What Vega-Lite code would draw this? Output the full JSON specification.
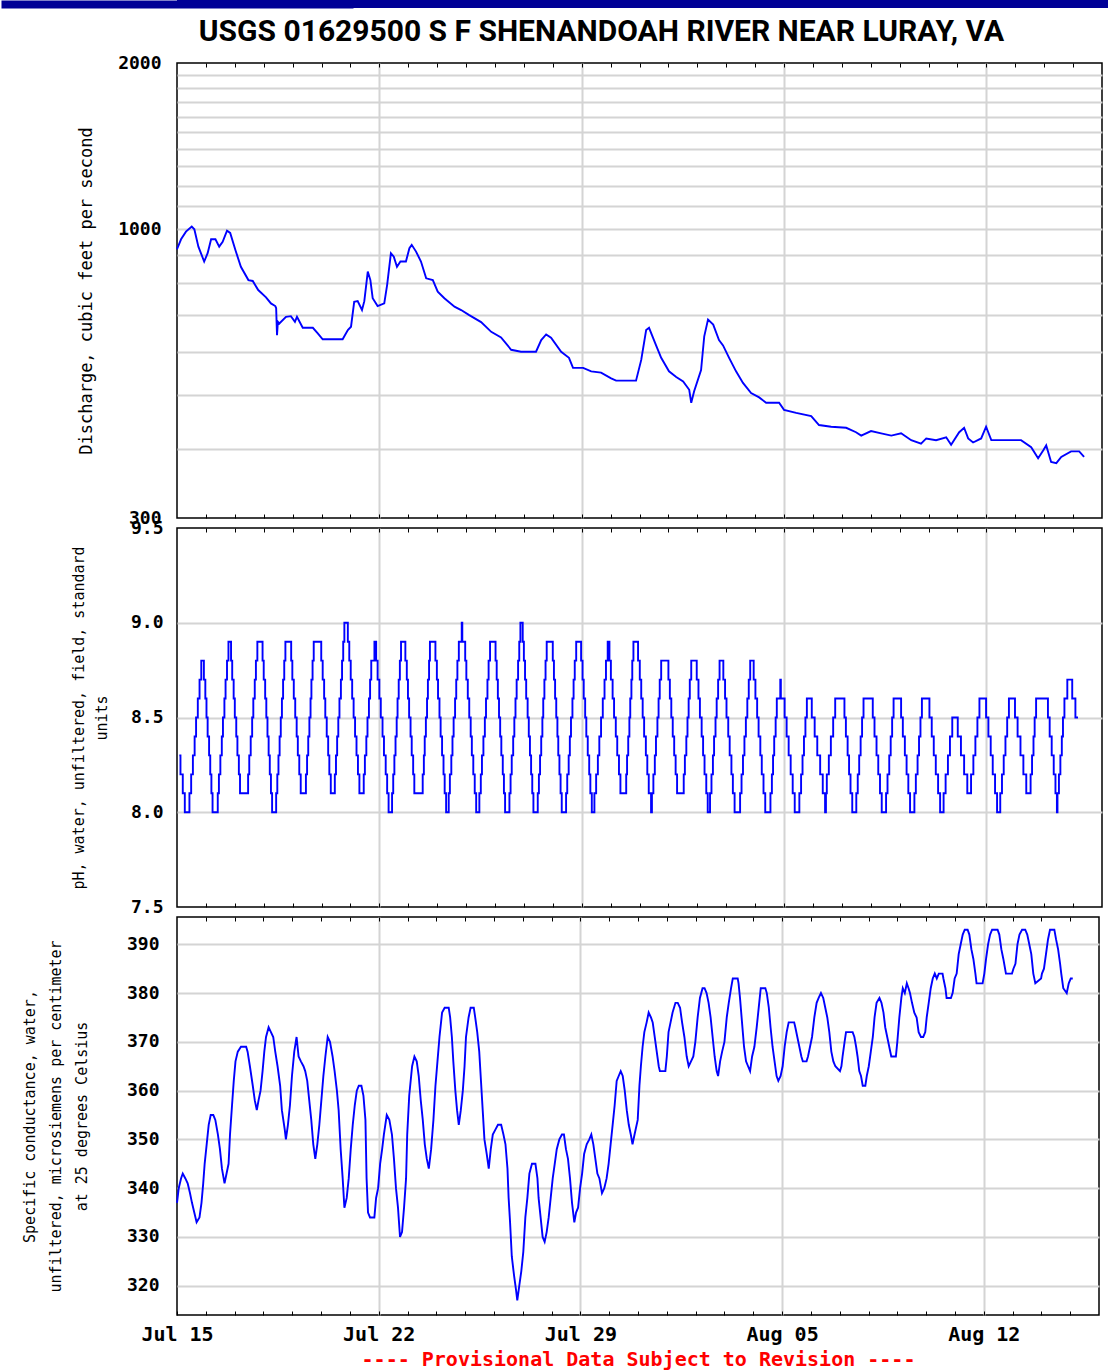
{
"$schema":"https://vega.github.io/schema/vega-lite/v6.json",
"background":"white",
"padding":{"left":21,"top":0,"right":0,"bottom":0},
"spacing":5,
"config":{
"view":{"stroke":"#000","strokeWidth":1.5},
"axis":{"labelFont":"DejaVu Sans Mono","labelFontWeight":"bold","labelFontSize":18,"labelColor":"#000","titleFont":"DejaVu Sans Mono","titleFontWeight":"normal","titleFontSize":15,"titleColor":"#000","gridColor":"#d4d4d4","gridWidth":2,"gridOpacity":1,"tickColor":"#000","tickWidth":1,"labelFlush":false,"labelOverlap":false},
"line":{"color":"#0000ff","strokeWidth":1.9}
},
"vconcat":[
{"width":932,"height":8,"view":{"fill":"#000096","stroke":null},"data":{"values":[{"k":0}]},"mark":{"type":"point","opacity":0},"encoding":{"y":{"field":"k","type":"quantitative","scale":{"domain":[0,1]},"axis":{"orient":"left","domain":true,"domainColor":"#000096","domainWidth":352,"domainCap":"butt","labels":false,"ticks":false,"grid":false,"title":null}}}},
{"spacing":10,"bounds":"flush","vconcat":[
{"width":925,"height":455,
"title":{"text":"USGS 01629500 S F SHENANDOAH RIVER NEAR LURAY, VA","font":"Roboto","fontSize":30,"fontWeight":"bold","color":"#000","anchor":"middle","frame":"group","dx":-38,"baseline":"alphabetic","offset":-17},
"data":{"values":[
{"d":0,"q":920},{"d":0.14,"q":959},{"d":0.31,"q":990},{"d":0.51,"q":1011},{"d":0.6,"q":1000},{"d":0.74,"q":930},{"d":0.94,"q":874},{"d":1.06,"q":905},{"d":1.18,"q":959},{"d":1.33,"q":959},{"d":1.46,"q":930},{"d":1.58,"q":949},{"d":1.73,"q":994},{"d":1.84,"q":985},{"d":2.02,"q":917},{"d":2.21,"q":855},{"d":2.47,"q":809},{"d":2.62,"q":806},{"d":2.81,"q":776},{"d":3.08,"q":753},{"d":3.25,"q":734},{"d":3.4,"q":726},{"d":3.43,"q":720},{"d":3.46,"q":643},{"d":3.49,"q":680},{"d":3.54,"q":675},{"d":3.77,"q":694},{"d":3.94,"q":696},{"d":4.08,"q":680},{"d":4.15,"q":694},{"d":4.35,"q":663},{"d":4.7,"q":663},{"d":4.87,"q":648},{"d":5.04,"q":632},{"d":5.73,"q":632},{"d":5.91,"q":657},{"d":6.02,"q":666},{"d":6.13,"q":739},{"d":6.25,"q":741},{"d":6.4,"q":714},{"d":6.48,"q":741},{"d":6.6,"q":838},{"d":6.69,"q":809},{"d":6.77,"q":750},{"d":6.94,"q":726},{"d":7.17,"q":734},{"d":7.27,"q":793},{"d":7.4,"q":905},{"d":7.5,"q":892},{"d":7.61,"q":855},{"d":7.73,"q":874},{"d":7.92,"q":874},{"d":8.04,"q":924},{"d":8.12,"q":937},{"d":8.27,"q":911},{"d":8.44,"q":874},{"d":8.62,"q":815},{"d":8.85,"q":809},{"d":9.02,"q":771},{"d":9.25,"q":750},{"d":9.6,"q":724},{"d":9.83,"q":714},{"d":10.11,"q":699},{"d":10.52,"q":679},{"d":10.87,"q":652},{"d":11.21,"q":637},{"d":11.56,"q":605},{"d":11.9,"q":600},{"d":12.42,"q":600},{"d":12.6,"q":630},{"d":12.77,"q":645},{"d":12.94,"q":636},{"d":13.29,"q":600},{"d":13.56,"q":585},{"d":13.7,"q":561},{"d":14.05,"q":561},{"d":14.33,"q":553},{"d":14.67,"q":550},{"d":15.02,"q":537},{"d":15.19,"q":532},{"d":15.88,"q":532},{"d":16.06,"q":580},{"d":16.23,"q":657},{"d":16.33,"q":663},{"d":16.57,"q":617},{"d":16.75,"q":585},{"d":17.02,"q":553},{"d":17.27,"q":540},{"d":17.51,"q":530},{"d":17.72,"q":512},{"d":17.79,"q":485},{"d":17.89,"q":509},{"d":18.13,"q":556},{"d":18.24,"q":640},{"d":18.37,"q":686},{"d":18.55,"q":672},{"d":18.75,"q":630},{"d":18.89,"q":616},{"d":19.1,"q":585},{"d":19.34,"q":553},{"d":19.58,"q":527},{"d":19.86,"q":505},{"d":20.14,"q":496},{"d":20.38,"q":485},{"d":20.83,"q":485},{"d":21,"q":471},{"d":21.42,"q":465},{"d":21.94,"q":459},{"d":22.21,"q":442},{"d":22.63,"q":439},{"d":23.15,"q":437},{"d":23.49,"q":429},{"d":23.67,"q":423},{"d":24.01,"q":431},{"d":24.36,"q":427},{"d":24.71,"q":423},{"d":25.05,"q":427},{"d":25.4,"q":415},{"d":25.74,"q":409},{"d":25.92,"q":418},{"d":26.26,"q":415},{"d":26.61,"q":420},{"d":26.78,"q":407},{"d":27.06,"q":429},{"d":27.23,"q":437},{"d":27.37,"q":418},{"d":27.54,"q":411},{"d":27.82,"q":418},{"d":27.99,"q":439},{"d":28.17,"q":415},{"d":28.51,"q":415},{"d":29.2,"q":415},{"d":29.55,"q":403},{"d":29.79,"q":385},{"d":29.97,"q":398},{"d":30.07,"q":406},{"d":30.24,"q":379},{"d":30.42,"q":377},{"d":30.59,"q":387},{"d":30.93,"q":396},{"d":31.21,"q":396},{"d":31.38,"q":387}
]},
"layer":[
{"mark":{"type":"line","strokeOpacity":0},"encoding":{
"x":{"field":"d","type":"quantitative","scale":{"domain":[0,32],"nice":false,"zero":false},"axis":{"orient":"bottom","values":[7,14,21,28],"grid":true,"labels":false,"ticks":false,"domain":false,"title":null}},
"y":{"field":"q","type":"quantitative","scale":{"type":"log","domain":[300,2000],"nice":false},"axis":{"orient":"left","values":[400,500,600,700,800,900,1000,1100,1200,1300,1400,1500,1600,1700,1800,1900],"grid":true,"labels":false,"ticks":false,"domain":false,"title":null}}}},
{"mark":{"type":"line","strokeOpacity":0},"encoding":{
"x":{"field":"d","type":"quantitative","scale":{"domain":[0,32],"nice":false,"zero":false},"axis":{"orient":"top","values":[1,2,3,4,5,6,7,8,9,10,11,12,13,14,15,16,17,18,19,20,21,22,23,24,25,26,27,28,29,30,31],"grid":false,"labels":false,"ticks":true,"tickSize":-4,"domain":false,"title":null,"minExtent":0,"maxExtent":0}},
"y":{"field":"q","type":"quantitative","scale":{"type":"log","domain":[300,2000],"nice":false},"axis":null}}},
{"mark":{"type":"line"},"encoding":{
"x":{"field":"d","type":"quantitative","scale":{"domain":[0,32],"nice":false,"zero":false},"axis":{"orient":"bottom","values":[1,2,3,4,5,6,7,8,9,10,11,12,13,14,15,16,17,18,19,20,21,22,23,24,25,26,27,28,29,30,31],"grid":false,"labels":false,"ticks":true,"tickSize":-4,"domain":false,"title":null}},
"y":{"field":"q","type":"quantitative","scale":{"type":"log","domain":[300,2000],"nice":false},"axis":{"orient":"left","values":[300,1000,2000],"format":"d","grid":false,"ticks":false,"domain":false,"labelPadding":16,"title":"Discharge, cubic feet per second","titleFontSize":17,"titlePadding":22}}}}
],
"resolve":{"axis":{"x":"independent","y":"independent"}}
},
{"width":925,"height":379,
"data":{"values":[
{"d":0.08,"p":8.3},{"d":0.12,"p":8.2},{"d":0.2,"p":8.1},{"d":0.27,"p":8.0},{"d":0.43,"p":8.1},{"d":0.49,"p":8.2},{"d":0.55,"p":8.3},{"d":0.61,"p":8.4},{"d":0.66,"p":8.5},{"d":0.72,"p":8.6},{"d":0.78,"p":8.7},{"d":0.84,"p":8.8},{"d":0.93,"p":8.7},{"d":0.98,"p":8.6},{"d":1.02,"p":8.5},{"d":1.06,"p":8.4},{"d":1.11,"p":8.3},{"d":1.15,"p":8.2},{"d":1.19,"p":8.1},{"d":1.23,"p":8.0},{"d":1.41,"p":8.1},{"d":1.45,"p":8.2},{"d":1.5,"p":8.3},{"d":1.55,"p":8.4},{"d":1.59,"p":8.5},{"d":1.64,"p":8.6},{"d":1.68,"p":8.7},{"d":1.73,"p":8.8},{"d":1.78,"p":8.9},{"d":1.87,"p":8.8},{"d":1.91,"p":8.7},{"d":1.96,"p":8.6},{"d":2.0,"p":8.5},{"d":2.05,"p":8.4},{"d":2.09,"p":8.3},{"d":2.14,"p":8.2},{"d":2.18,"p":8.1},{"d":2.46,"p":8.2},{"d":2.5,"p":8.3},{"d":2.55,"p":8.4},{"d":2.6,"p":8.5},{"d":2.64,"p":8.6},{"d":2.69,"p":8.7},{"d":2.73,"p":8.8},{"d":2.78,"p":8.9},{"d":2.96,"p":8.8},{"d":3.0,"p":8.7},{"d":3.05,"p":8.6},{"d":3.09,"p":8.5},{"d":3.13,"p":8.4},{"d":3.17,"p":8.3},{"d":3.21,"p":8.2},{"d":3.25,"p":8.1},{"d":3.29,"p":8.0},{"d":3.43,"p":8.1},{"d":3.47,"p":8.2},{"d":3.51,"p":8.3},{"d":3.55,"p":8.4},{"d":3.59,"p":8.5},{"d":3.63,"p":8.6},{"d":3.67,"p":8.7},{"d":3.71,"p":8.8},{"d":3.75,"p":8.9},{"d":3.95,"p":8.8},{"d":3.99,"p":8.7},{"d":4.04,"p":8.6},{"d":4.09,"p":8.5},{"d":4.14,"p":8.4},{"d":4.18,"p":8.3},{"d":4.23,"p":8.2},{"d":4.28,"p":8.1},{"d":4.46,"p":8.2},{"d":4.5,"p":8.3},{"d":4.54,"p":8.4},{"d":4.58,"p":8.5},{"d":4.62,"p":8.6},{"d":4.65,"p":8.7},{"d":4.69,"p":8.8},{"d":4.73,"p":8.9},{"d":4.99,"p":8.8},{"d":5.04,"p":8.7},{"d":5.09,"p":8.6},{"d":5.13,"p":8.5},{"d":5.18,"p":8.4},{"d":5.23,"p":8.3},{"d":5.27,"p":8.2},{"d":5.32,"p":8.1},{"d":5.46,"p":8.2},{"d":5.5,"p":8.3},{"d":5.54,"p":8.4},{"d":5.58,"p":8.5},{"d":5.62,"p":8.6},{"d":5.67,"p":8.7},{"d":5.71,"p":8.8},{"d":5.75,"p":8.9},{"d":5.79,"p":9.0},{"d":5.91,"p":8.9},{"d":5.96,"p":8.8},{"d":6.01,"p":8.7},{"d":6.06,"p":8.6},{"d":6.11,"p":8.5},{"d":6.16,"p":8.4},{"d":6.21,"p":8.3},{"d":6.26,"p":8.2},{"d":6.31,"p":8.1},{"d":6.46,"p":8.2},{"d":6.5,"p":8.3},{"d":6.55,"p":8.4},{"d":6.59,"p":8.5},{"d":6.64,"p":8.6},{"d":6.68,"p":8.7},{"d":6.72,"p":8.8},{"d":6.83,"p":8.9},{"d":6.89,"p":8.8},{"d":6.94,"p":8.7},{"d":7.0,"p":8.6},{"d":7.05,"p":8.5},{"d":7.11,"p":8.4},{"d":7.16,"p":8.3},{"d":7.22,"p":8.2},{"d":7.27,"p":8.1},{"d":7.32,"p":8.0},{"d":7.44,"p":8.1},{"d":7.48,"p":8.2},{"d":7.52,"p":8.3},{"d":7.56,"p":8.4},{"d":7.6,"p":8.5},{"d":7.63,"p":8.6},{"d":7.67,"p":8.7},{"d":7.71,"p":8.8},{"d":7.75,"p":8.9},{"d":7.9,"p":8.8},{"d":7.95,"p":8.7},{"d":7.99,"p":8.6},{"d":8.03,"p":8.5},{"d":8.08,"p":8.4},{"d":8.12,"p":8.3},{"d":8.17,"p":8.2},{"d":8.21,"p":8.1},{"d":8.5,"p":8.2},{"d":8.54,"p":8.3},{"d":8.57,"p":8.4},{"d":8.61,"p":8.5},{"d":8.65,"p":8.6},{"d":8.68,"p":8.7},{"d":8.72,"p":8.8},{"d":8.75,"p":8.9},{"d":8.94,"p":8.8},{"d":8.99,"p":8.7},{"d":9.03,"p":8.6},{"d":9.08,"p":8.5},{"d":9.12,"p":8.4},{"d":9.17,"p":8.3},{"d":9.22,"p":8.2},{"d":9.26,"p":8.1},{"d":9.31,"p":8.0},{"d":9.4,"p":8.1},{"d":9.44,"p":8.2},{"d":9.49,"p":8.3},{"d":9.53,"p":8.4},{"d":9.57,"p":8.5},{"d":9.62,"p":8.6},{"d":9.66,"p":8.7},{"d":9.7,"p":8.8},{"d":9.75,"p":8.9},{"d":9.85,"p":9.0},{"d":9.87,"p":8.9},{"d":9.97,"p":8.8},{"d":10.01,"p":8.7},{"d":10.06,"p":8.6},{"d":10.11,"p":8.5},{"d":10.16,"p":8.4},{"d":10.2,"p":8.3},{"d":10.25,"p":8.2},{"d":10.3,"p":8.1},{"d":10.35,"p":8.0},{"d":10.46,"p":8.1},{"d":10.51,"p":8.2},{"d":10.55,"p":8.3},{"d":10.6,"p":8.4},{"d":10.65,"p":8.5},{"d":10.69,"p":8.6},{"d":10.74,"p":8.7},{"d":10.78,"p":8.8},{"d":10.83,"p":8.9},{"d":11.02,"p":8.8},{"d":11.06,"p":8.7},{"d":11.1,"p":8.6},{"d":11.14,"p":8.5},{"d":11.18,"p":8.4},{"d":11.22,"p":8.3},{"d":11.27,"p":8.2},{"d":11.31,"p":8.1},{"d":11.35,"p":8.0},{"d":11.5,"p":8.1},{"d":11.54,"p":8.2},{"d":11.58,"p":8.3},{"d":11.63,"p":8.4},{"d":11.67,"p":8.5},{"d":11.71,"p":8.6},{"d":11.75,"p":8.7},{"d":11.8,"p":8.8},{"d":11.84,"p":8.9},{"d":11.88,"p":9.0},{"d":11.96,"p":8.9},{"d":12.0,"p":8.8},{"d":12.04,"p":8.7},{"d":12.08,"p":8.6},{"d":12.13,"p":8.5},{"d":12.17,"p":8.4},{"d":12.21,"p":8.3},{"d":12.25,"p":8.2},{"d":12.29,"p":8.1},{"d":12.33,"p":8.0},{"d":12.48,"p":8.1},{"d":12.52,"p":8.2},{"d":12.56,"p":8.3},{"d":12.6,"p":8.4},{"d":12.64,"p":8.5},{"d":12.67,"p":8.6},{"d":12.71,"p":8.7},{"d":12.75,"p":8.8},{"d":12.79,"p":8.9},{"d":13.0,"p":8.8},{"d":13.04,"p":8.7},{"d":13.08,"p":8.6},{"d":13.12,"p":8.5},{"d":13.16,"p":8.4},{"d":13.19,"p":8.3},{"d":13.23,"p":8.2},{"d":13.27,"p":8.1},{"d":13.31,"p":8.0},{"d":13.46,"p":8.1},{"d":13.5,"p":8.2},{"d":13.55,"p":8.3},{"d":13.59,"p":8.4},{"d":13.63,"p":8.5},{"d":13.68,"p":8.6},{"d":13.72,"p":8.7},{"d":13.76,"p":8.8},{"d":13.81,"p":8.9},{"d":13.98,"p":8.8},{"d":14.03,"p":8.7},{"d":14.07,"p":8.6},{"d":14.12,"p":8.5},{"d":14.16,"p":8.4},{"d":14.21,"p":8.3},{"d":14.26,"p":8.2},{"d":14.3,"p":8.1},{"d":14.35,"p":8.0},{"d":14.44,"p":8.1},{"d":14.5,"p":8.2},{"d":14.56,"p":8.3},{"d":14.61,"p":8.4},{"d":14.67,"p":8.5},{"d":14.73,"p":8.6},{"d":14.79,"p":8.7},{"d":14.84,"p":8.8},{"d":14.9,"p":8.9},{"d":14.96,"p":8.8},{"d":15.01,"p":8.7},{"d":15.07,"p":8.6},{"d":15.12,"p":8.5},{"d":15.18,"p":8.4},{"d":15.23,"p":8.3},{"d":15.29,"p":8.2},{"d":15.34,"p":8.1},{"d":15.54,"p":8.2},{"d":15.57,"p":8.3},{"d":15.61,"p":8.4},{"d":15.65,"p":8.5},{"d":15.68,"p":8.6},{"d":15.72,"p":8.7},{"d":15.75,"p":8.8},{"d":15.79,"p":8.9},{"d":15.95,"p":8.8},{"d":16.01,"p":8.7},{"d":16.06,"p":8.6},{"d":16.11,"p":8.5},{"d":16.16,"p":8.4},{"d":16.22,"p":8.3},{"d":16.27,"p":8.2},{"d":16.32,"p":8.1},{"d":16.4,"p":8.0},{"d":16.43,"p":8.1},{"d":16.48,"p":8.2},{"d":16.53,"p":8.3},{"d":16.57,"p":8.4},{"d":16.62,"p":8.5},{"d":16.66,"p":8.6},{"d":16.7,"p":8.7},{"d":16.75,"p":8.8},{"d":17.0,"p":8.7},{"d":17.05,"p":8.6},{"d":17.1,"p":8.5},{"d":17.15,"p":8.4},{"d":17.2,"p":8.3},{"d":17.25,"p":8.2},{"d":17.3,"p":8.1},{"d":17.53,"p":8.2},{"d":17.57,"p":8.3},{"d":17.62,"p":8.4},{"d":17.66,"p":8.5},{"d":17.7,"p":8.6},{"d":17.74,"p":8.7},{"d":17.79,"p":8.8},{"d":17.98,"p":8.7},{"d":18.04,"p":8.6},{"d":18.09,"p":8.5},{"d":18.15,"p":8.4},{"d":18.2,"p":8.3},{"d":18.25,"p":8.2},{"d":18.31,"p":8.1},{"d":18.36,"p":8.0},{"d":18.44,"p":8.1},{"d":18.49,"p":8.2},{"d":18.54,"p":8.3},{"d":18.58,"p":8.4},{"d":18.63,"p":8.5},{"d":18.67,"p":8.6},{"d":18.72,"p":8.7},{"d":18.77,"p":8.8},{"d":18.9,"p":8.7},{"d":18.96,"p":8.6},{"d":19.01,"p":8.5},{"d":19.07,"p":8.4},{"d":19.12,"p":8.3},{"d":19.18,"p":8.2},{"d":19.23,"p":8.1},{"d":19.29,"p":8.0},{"d":19.48,"p":8.1},{"d":19.53,"p":8.2},{"d":19.58,"p":8.3},{"d":19.63,"p":8.4},{"d":19.68,"p":8.5},{"d":19.73,"p":8.6},{"d":19.78,"p":8.7},{"d":19.83,"p":8.8},{"d":19.95,"p":8.7},{"d":20.01,"p":8.6},{"d":20.07,"p":8.5},{"d":20.12,"p":8.4},{"d":20.18,"p":8.3},{"d":20.23,"p":8.2},{"d":20.29,"p":8.1},{"d":20.35,"p":8.0},{"d":20.53,"p":8.1},{"d":20.58,"p":8.2},{"d":20.62,"p":8.3},{"d":20.66,"p":8.4},{"d":20.71,"p":8.5},{"d":20.75,"p":8.6},{"d":20.87,"p":8.7},{"d":20.89,"p":8.6},{"d":21.02,"p":8.5},{"d":21.09,"p":8.4},{"d":21.16,"p":8.3},{"d":21.23,"p":8.2},{"d":21.3,"p":8.1},{"d":21.37,"p":8.0},{"d":21.53,"p":8.1},{"d":21.59,"p":8.2},{"d":21.64,"p":8.3},{"d":21.69,"p":8.4},{"d":21.74,"p":8.5},{"d":21.79,"p":8.6},{"d":21.96,"p":8.5},{"d":22.06,"p":8.4},{"d":22.15,"p":8.3},{"d":22.25,"p":8.2},{"d":22.34,"p":8.1},{"d":22.42,"p":8.0},{"d":22.45,"p":8.1},{"d":22.48,"p":8.2},{"d":22.55,"p":8.3},{"d":22.62,"p":8.4},{"d":22.7,"p":8.5},{"d":22.77,"p":8.6},{"d":23.09,"p":8.5},{"d":23.14,"p":8.4},{"d":23.2,"p":8.3},{"d":23.25,"p":8.2},{"d":23.3,"p":8.1},{"d":23.36,"p":8.0},{"d":23.5,"p":8.1},{"d":23.55,"p":8.2},{"d":23.6,"p":8.3},{"d":23.65,"p":8.4},{"d":23.7,"p":8.5},{"d":23.75,"p":8.6},{"d":24.07,"p":8.5},{"d":24.13,"p":8.4},{"d":24.2,"p":8.3},{"d":24.26,"p":8.2},{"d":24.32,"p":8.1},{"d":24.38,"p":8.0},{"d":24.53,"p":8.1},{"d":24.58,"p":8.2},{"d":24.64,"p":8.3},{"d":24.69,"p":8.4},{"d":24.74,"p":8.5},{"d":24.79,"p":8.6},{"d":25.05,"p":8.5},{"d":25.11,"p":8.4},{"d":25.18,"p":8.3},{"d":25.24,"p":8.2},{"d":25.3,"p":8.1},{"d":25.36,"p":8.0},{"d":25.51,"p":8.1},{"d":25.56,"p":8.2},{"d":25.62,"p":8.3},{"d":25.67,"p":8.4},{"d":25.72,"p":8.5},{"d":25.77,"p":8.6},{"d":26.03,"p":8.5},{"d":26.11,"p":8.4},{"d":26.18,"p":8.3},{"d":26.25,"p":8.2},{"d":26.33,"p":8.1},{"d":26.4,"p":8.0},{"d":26.52,"p":8.1},{"d":26.59,"p":8.2},{"d":26.67,"p":8.3},{"d":26.74,"p":8.4},{"d":26.82,"p":8.5},{"d":27.01,"p":8.4},{"d":27.12,"p":8.3},{"d":27.23,"p":8.2},{"d":27.34,"p":8.1},{"d":27.47,"p":8.2},{"d":27.55,"p":8.3},{"d":27.62,"p":8.4},{"d":27.69,"p":8.5},{"d":27.76,"p":8.6},{"d":27.99,"p":8.5},{"d":28.07,"p":8.4},{"d":28.15,"p":8.3},{"d":28.22,"p":8.2},{"d":28.3,"p":8.1},{"d":28.37,"p":8.0},{"d":28.48,"p":8.1},{"d":28.54,"p":8.2},{"d":28.6,"p":8.3},{"d":28.66,"p":8.4},{"d":28.72,"p":8.5},{"d":28.78,"p":8.6},{"d":28.99,"p":8.5},{"d":29.08,"p":8.4},{"d":29.18,"p":8.3},{"d":29.28,"p":8.2},{"d":29.38,"p":8.1},{"d":29.53,"p":8.2},{"d":29.58,"p":8.3},{"d":29.63,"p":8.4},{"d":29.67,"p":8.5},{"d":29.72,"p":8.6},{"d":30.13,"p":8.5},{"d":30.19,"p":8.4},{"d":30.26,"p":8.3},{"d":30.33,"p":8.2},{"d":30.39,"p":8.1},{"d":30.44,"p":8.0},{"d":30.46,"p":8.1},{"d":30.51,"p":8.2},{"d":30.56,"p":8.3},{"d":30.61,"p":8.4},{"d":30.65,"p":8.5},{"d":30.7,"p":8.6},{"d":30.8,"p":8.7},{"d":30.97,"p":8.6},{"d":31.08,"p":8.5},{"d":31.17,"p":8.5}
]},
"layer":[
{"mark":{"type":"line","strokeOpacity":0},"encoding":{
"x":{"field":"d","type":"quantitative","scale":{"domain":[0,32],"nice":false,"zero":false},"axis":{"orient":"bottom","values":[7,14,21,28],"grid":true,"labels":false,"ticks":false,"domain":false,"title":null}},
"y":{"field":"p","type":"quantitative","scale":{"domain":[7.5,9.5],"nice":false,"zero":false},"axis":{"orient":"left","values":[8,8.5,9],"grid":true,"labels":false,"ticks":false,"domain":false,"title":null}}}},
{"mark":{"type":"line","strokeOpacity":0},"encoding":{
"x":{"field":"d","type":"quantitative","scale":{"domain":[0,32],"nice":false,"zero":false},"axis":{"orient":"top","values":[1,2,3,4,5,6,7,8,9,10,11,12,13,14,15,16,17,18,19,20,21,22,23,24,25,26,27,28,29,30,31],"grid":false,"labels":false,"ticks":true,"tickSize":-4,"domain":false,"title":null,"minExtent":0,"maxExtent":0}},
"y":{"field":"p","type":"quantitative","scale":{"domain":[7.5,9.5],"nice":false,"zero":false},"axis":null}}},
{"mark":{"type":"line","interpolate":"step-after"},"encoding":{
"x":{"field":"d","type":"quantitative","scale":{"domain":[0,32],"nice":false,"zero":false},"axis":{"orient":"bottom","values":[1,2,3,4,5,6,7,8,9,10,11,12,13,14,15,16,17,18,19,20,21,22,23,24,25,26,27,28,29,30,31],"grid":false,"labels":false,"ticks":true,"tickSize":-4,"domain":false,"title":null}},
"y":{"field":"p","type":"quantitative","scale":{"domain":[7.5,9.5],"nice":false,"zero":false},"axis":{"orient":"left","values":[7.5,8,8.5,9,9.5],"format":".1f","grid":false,"ticks":false,"domain":false,"labelPadding":14,"title":["pH, water, unfiltered, field, standard","units"],"titleLineHeight":23,"titlePadding":21}}}}
],
"resolve":{"axis":{"x":"independent","y":"independent"}}
},
{"width":922,"height":398,
"data":{"values":[
{"d":0,"c":337},{"d":0.06,"c":340},{"d":0.14,"c":342},{"d":0.2,"c":343},{"d":0.29,"c":342},{"d":0.37,"c":341},{"d":0.45,"c":339},{"d":0.52,"c":337},{"d":0.6,"c":335},{"d":0.68,"c":333},{"d":0.78,"c":334},{"d":0.85,"c":337},{"d":0.91,"c":341},{"d":0.96,"c":345},{"d":1.03,"c":349},{"d":1.1,"c":353},{"d":1.17,"c":355},{"d":1.26,"c":355},{"d":1.33,"c":354},{"d":1.42,"c":351},{"d":1.49,"c":348},{"d":1.56,"c":344},{"d":1.65,"c":341},{"d":1.72,"c":343},{"d":1.79,"c":345},{"d":1.84,"c":351},{"d":1.91,"c":357},{"d":1.97,"c":362},{"d":2.03,"c":366},{"d":2.11,"c":368},{"d":2.22,"c":369},{"d":2.4,"c":369},{"d":2.45,"c":368},{"d":2.53,"c":365},{"d":2.63,"c":361},{"d":2.7,"c":358},{"d":2.77,"c":356},{"d":2.83,"c":358},{"d":2.9,"c":360},{"d":2.97,"c":364},{"d":3.03,"c":368},{"d":3.09,"c":371},{"d":3.18,"c":373},{"d":3.26,"c":372},{"d":3.34,"c":371},{"d":3.41,"c":368},{"d":3.49,"c":365},{"d":3.58,"c":361},{"d":3.64,"c":356},{"d":3.74,"c":352},{"d":3.78,"c":350},{"d":3.85,"c":353},{"d":3.92,"c":357},{"d":3.99,"c":363},{"d":4.07,"c":368},{"d":4.15,"c":371},{"d":4.22,"c":367},{"d":4.3,"c":366},{"d":4.39,"c":365},{"d":4.45,"c":364},{"d":4.52,"c":362},{"d":4.59,"c":358},{"d":4.66,"c":354},{"d":4.73,"c":349},{"d":4.8,"c":346},{"d":4.87,"c":349},{"d":4.94,"c":353},{"d":5.01,"c":358},{"d":5.08,"c":363},{"d":5.15,"c":367},{"d":5.23,"c":371},{"d":5.31,"c":370},{"d":5.4,"c":367},{"d":5.47,"c":364},{"d":5.55,"c":360},{"d":5.61,"c":356},{"d":5.68,"c":348},{"d":5.75,"c":342},{"d":5.81,"c":336},{"d":5.89,"c":338},{"d":5.96,"c":342},{"d":6.03,"c":348},{"d":6.1,"c":353},{"d":6.17,"c":357},{"d":6.24,"c":360},{"d":6.31,"c":361},{"d":6.4,"c":361},{"d":6.47,"c":359},{"d":6.54,"c":354},{"d":6.58,"c":342},{"d":6.63,"c":335},{"d":6.7,"c":334},{"d":6.85,"c":334},{"d":6.91,"c":338},{"d":6.98,"c":340},{"d":7.05,"c":345},{"d":7.12,"c":348},{"d":7.18,"c":351},{"d":7.28,"c":355},{"d":7.37,"c":354},{"d":7.46,"c":351},{"d":7.53,"c":346},{"d":7.6,"c":340},{"d":7.67,"c":336},{"d":7.74,"c":330},{"d":7.81,"c":331},{"d":7.88,"c":336},{"d":7.95,"c":342},{"d":7.99,"c":351},{"d":8.06,"c":359},{"d":8.16,"c":365},{"d":8.24,"c":367},{"d":8.32,"c":366},{"d":8.39,"c":363},{"d":8.46,"c":358},{"d":8.53,"c":354},{"d":8.6,"c":349},{"d":8.67,"c":346},{"d":8.74,"c":344},{"d":8.82,"c":348},{"d":8.9,"c":354},{"d":8.97,"c":361},{"d":9.04,"c":366},{"d":9.11,"c":371},{"d":9.2,"c":376},{"d":9.29,"c":377},{"d":9.43,"c":377},{"d":9.48,"c":375},{"d":9.54,"c":371},{"d":9.59,"c":366},{"d":9.66,"c":360},{"d":9.72,"c":356},{"d":9.78,"c":353},{"d":9.85,"c":356},{"d":9.92,"c":360},{"d":9.98,"c":365},{"d":10.03,"c":371},{"d":10.12,"c":375},{"d":10.19,"c":377},{"d":10.3,"c":377},{"d":10.35,"c":375},{"d":10.42,"c":372},{"d":10.49,"c":368},{"d":10.55,"c":362},{"d":10.61,"c":356},{"d":10.67,"c":350},{"d":10.75,"c":347},{"d":10.82,"c":344},{"d":10.89,"c":348},{"d":10.96,"c":351},{"d":11.05,"c":352},{"d":11.14,"c":353},{"d":11.25,"c":353},{"d":11.33,"c":351},{"d":11.4,"c":349},{"d":11.47,"c":344},{"d":11.51,"c":338},{"d":11.56,"c":333},{"d":11.62,"c":326},{"d":11.7,"c":322},{"d":11.77,"c":319},{"d":11.81,"c":317},{"d":11.88,"c":320},{"d":11.95,"c":323},{"d":12.02,"c":327},{"d":12.09,"c":334},{"d":12.16,"c":338},{"d":12.23,"c":343},{"d":12.32,"c":345},{"d":12.44,"c":345},{"d":12.51,"c":342},{"d":12.55,"c":338},{"d":12.62,"c":334},{"d":12.69,"c":330},{"d":12.76,"c":329},{"d":12.83,"c":331},{"d":12.9,"c":334},{"d":12.97,"c":338},{"d":13.04,"c":342},{"d":13.11,"c":345},{"d":13.18,"c":348},{"d":13.27,"c":350},{"d":13.36,"c":351},{"d":13.43,"c":351},{"d":13.5,"c":348},{"d":13.57,"c":346},{"d":13.64,"c":342},{"d":13.71,"c":337},{"d":13.79,"c":333},{"d":13.85,"c":335},{"d":13.92,"c":336},{"d":13.99,"c":340},{"d":14.06,"c":343},{"d":14.13,"c":347},{"d":14.22,"c":349},{"d":14.31,"c":350},{"d":14.38,"c":351},{"d":14.45,"c":349},{"d":14.52,"c":346},{"d":14.59,"c":343},{"d":14.66,"c":342},{"d":14.75,"c":339},{"d":14.83,"c":340},{"d":14.91,"c":342},{"d":14.98,"c":345},{"d":15.05,"c":349},{"d":15.12,"c":353},{"d":15.19,"c":357},{"d":15.26,"c":362},{"d":15.33,"c":363},{"d":15.4,"c":364},{"d":15.47,"c":363},{"d":15.54,"c":360},{"d":15.61,"c":356},{"d":15.68,"c":353},{"d":15.75,"c":351},{"d":15.81,"c":349},{"d":15.88,"c":351},{"d":15.99,"c":354},{"d":16.05,"c":361},{"d":16.1,"c":365},{"d":16.16,"c":369},{"d":16.22,"c":372},{"d":16.3,"c":374},{"d":16.37,"c":376},{"d":16.45,"c":375},{"d":16.51,"c":374},{"d":16.58,"c":371},{"d":16.65,"c":368},{"d":16.72,"c":365},{"d":16.76,"c":364},{"d":16.95,"c":364},{"d":17,"c":367},{"d":17.06,"c":372},{"d":17.13,"c":374},{"d":17.2,"c":376},{"d":17.3,"c":378},{"d":17.38,"c":378},{"d":17.46,"c":377},{"d":17.53,"c":374},{"d":17.61,"c":371},{"d":17.69,"c":367},{"d":17.76,"c":365},{"d":17.84,"c":366},{"d":17.92,"c":367},{"d":17.99,"c":370},{"d":18.07,"c":375},{"d":18.15,"c":379},{"d":18.24,"c":381},{"d":18.31,"c":381},{"d":18.38,"c":380},{"d":18.45,"c":378},{"d":18.52,"c":375},{"d":18.59,"c":371},{"d":18.66,"c":367},{"d":18.73,"c":364},{"d":18.78,"c":363},{"d":18.85,"c":366},{"d":18.92,"c":368},{"d":19,"c":370},{"d":19.08,"c":375},{"d":19.15,"c":378},{"d":19.23,"c":381},{"d":19.29,"c":383},{"d":19.46,"c":383},{"d":19.49,"c":382},{"d":19.54,"c":379},{"d":19.61,"c":374},{"d":19.68,"c":369},{"d":19.75,"c":366},{"d":19.82,"c":365},{"d":19.89,"c":364},{"d":19.96,"c":367},{"d":20.04,"c":369},{"d":20.12,"c":373},{"d":20.19,"c":377},{"d":20.26,"c":381},{"d":20.33,"c":381},{"d":20.42,"c":381},{"d":20.47,"c":380},{"d":20.54,"c":377},{"d":20.6,"c":373},{"d":20.67,"c":369},{"d":20.74,"c":366},{"d":20.81,"c":363},{"d":20.87,"c":362},{"d":20.95,"c":363},{"d":21.02,"c":365},{"d":21.09,"c":369},{"d":21.16,"c":372},{"d":21.23,"c":374},{"d":21.28,"c":374},{"d":21.42,"c":374},{"d":21.46,"c":373},{"d":21.53,"c":371},{"d":21.6,"c":369},{"d":21.67,"c":367},{"d":21.72,"c":366},{"d":21.85,"c":366},{"d":21.9,"c":367},{"d":21.97,"c":369},{"d":22.04,"c":371},{"d":22.12,"c":375},{"d":22.2,"c":378},{"d":22.27,"c":379},{"d":22.35,"c":380},{"d":22.43,"c":379},{"d":22.5,"c":377},{"d":22.57,"c":375},{"d":22.64,"c":372},{"d":22.71,"c":368},{"d":22.78,"c":366},{"d":22.85,"c":365},{"d":23.01,"c":364},{"d":23.06,"c":365},{"d":23.1,"c":367},{"d":23.17,"c":370},{"d":23.22,"c":372},{"d":23.45,"c":372},{"d":23.51,"c":371},{"d":23.57,"c":369},{"d":23.62,"c":367},{"d":23.68,"c":364},{"d":23.74,"c":363},{"d":23.8,"c":361},{"d":23.89,"c":361},{"d":23.94,"c":363},{"d":24.01,"c":365},{"d":24.08,"c":368},{"d":24.15,"c":371},{"d":24.21,"c":375},{"d":24.28,"c":378},{"d":24.38,"c":379},{"d":24.45,"c":378},{"d":24.52,"c":376},{"d":24.58,"c":373},{"d":24.65,"c":371},{"d":24.72,"c":369},{"d":24.79,"c":367},{"d":24.95,"c":367},{"d":25,"c":370},{"d":25.07,"c":375},{"d":25.14,"c":379},{"d":25.19,"c":381},{"d":25.26,"c":380},{"d":25.33,"c":382},{"d":25.39,"c":381},{"d":25.44,"c":380},{"d":25.51,"c":378},{"d":25.59,"c":376},{"d":25.67,"c":375},{"d":25.74,"c":372},{"d":25.82,"c":371},{"d":25.9,"c":371},{"d":25.97,"c":372},{"d":26.02,"c":375},{"d":26.09,"c":378},{"d":26.16,"c":381},{"d":26.23,"c":383},{"d":26.3,"c":384},{"d":26.37,"c":383},{"d":26.44,"c":384},{"d":26.57,"c":384},{"d":26.6,"c":383},{"d":26.67,"c":381},{"d":26.71,"c":379},{"d":26.86,"c":379},{"d":26.92,"c":380},{"d":26.99,"c":383},{"d":27.06,"c":384},{"d":27.13,"c":388},{"d":27.2,"c":390},{"d":27.27,"c":392},{"d":27.34,"c":393},{"d":27.44,"c":393},{"d":27.5,"c":392},{"d":27.57,"c":389},{"d":27.64,"c":387},{"d":27.71,"c":384},{"d":27.75,"c":382},{"d":27.96,"c":382},{"d":28.02,"c":384},{"d":28.08,"c":387},{"d":28.15,"c":390},{"d":28.22,"c":392},{"d":28.29,"c":393},{"d":28.48,"c":393},{"d":28.54,"c":392},{"d":28.61,"c":389},{"d":28.68,"c":387},{"d":28.77,"c":384},{"d":28.98,"c":384},{"d":29.03,"c":385},{"d":29.1,"c":386},{"d":29.17,"c":390},{"d":29.24,"c":392},{"d":29.33,"c":393},{"d":29.44,"c":393},{"d":29.51,"c":392},{"d":29.58,"c":390},{"d":29.65,"c":388},{"d":29.72,"c":384},{"d":29.79,"c":382},{"d":29.99,"c":383},{"d":30.02,"c":384},{"d":30.09,"c":385},{"d":30.16,"c":388},{"d":30.23,"c":391},{"d":30.3,"c":393},{"d":30.37,"c":393},{"d":30.45,"c":393},{"d":30.51,"c":391},{"d":30.58,"c":389},{"d":30.65,"c":386},{"d":30.69,"c":384},{"d":30.76,"c":381},{"d":30.88,"c":380},{"d":30.95,"c":382},{"d":31.02,"c":383},{"d":31.09,"c":383}
]},
"layer":[
{"mark":{"type":"line","strokeOpacity":0},"encoding":{
"x":{"field":"d","type":"quantitative","scale":{"domain":[0,32],"nice":false,"zero":false},"axis":{"orient":"bottom","values":[7,14,21,28],"grid":true,"labels":false,"ticks":false,"domain":false,"title":null}},
"y":{"field":"c","type":"quantitative","scale":{"domain":[314,395.6],"nice":false,"zero":false},"axis":{"orient":"left","values":[320,330,340,350,360,370,380,390],"grid":true,"labels":false,"ticks":false,"domain":false,"title":null}}}},
{"mark":{"type":"line","strokeOpacity":0},"encoding":{
"x":{"field":"d","type":"quantitative","scale":{"domain":[0,32],"nice":false,"zero":false},"axis":{"orient":"top","values":[1,2,3,4,5,6,7,8,9,10,11,12,13,14,15,16,17,18,19,20,21,22,23,24,25,26,27,28,29,30,31],"grid":false,"labels":false,"ticks":true,"tickSize":-4,"domain":false,"title":null,"minExtent":0,"maxExtent":0}},
"y":{"field":"c","type":"quantitative","scale":{"domain":[314,395.6],"nice":false,"zero":false},"axis":null}}},
{"mark":{"type":"line"},"encoding":{
"x":{"field":"d","type":"quantitative","scale":{"domain":[0,32],"nice":false,"zero":false},"axis":{"orient":"bottom","values":[0,1,2,3,4,5,6,7,8,9,10,11,12,13,14,15,16,17,18,19,20,21,22,23,24,25,26,27,28,29,30,31],"grid":false,"labels":true,"labelExpr":"datum.value==0?'Jul 15':datum.value==7?'Jul 22':datum.value==14?'Jul 29':datum.value==21?'Aug 05':datum.value==28?'Aug 12':''","labelFontSize":20,"labelPadding":13,"ticks":true,"tickSize":-4,"domain":false,"title":"---- Provisional Data Subject to Revision ----","titleColor":"#ff0000","titleFontWeight":"bold","titleFontSize":20,"titlePadding":5}},
"y":{"field":"c","type":"quantitative","scale":{"domain":[314,395.6],"nice":false,"zero":false},"axis":{"orient":"left","values":[320,330,340,350,360,370,380,390],"format":"d","grid":false,"ticks":false,"domain":false,"labelPadding":18,"title":["Specific conductance, water,","unfiltered, microsiemens per centimeter","at 25 degrees Celsius"],"titleLineHeight":26,"titlePadding":37}}}}
],
"resolve":{"axis":{"x":"independent","y":"independent"}}
}
]}
]
}
